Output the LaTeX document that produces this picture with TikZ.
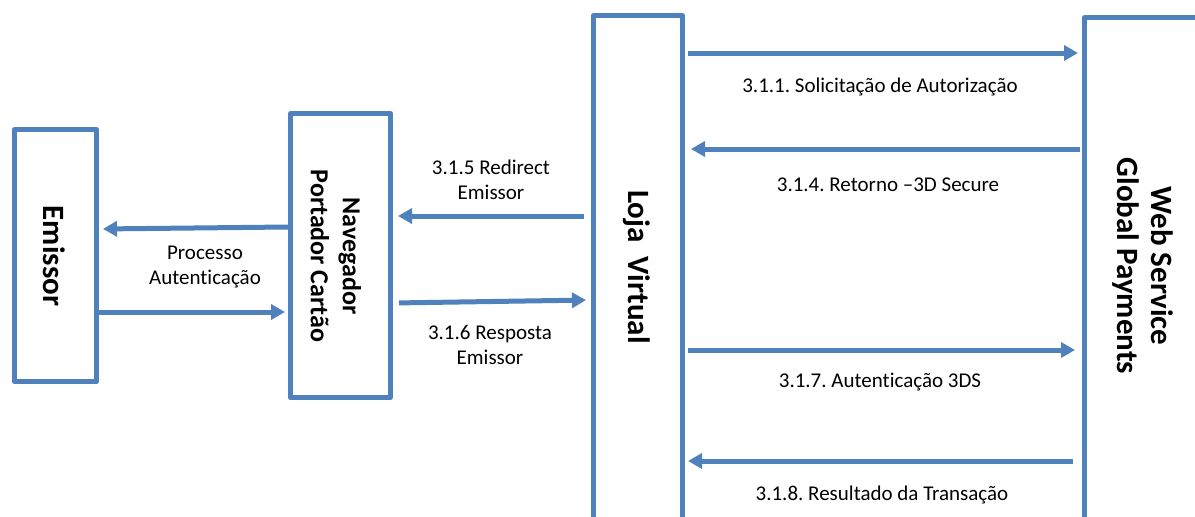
\documentclass[tikz,border=0pt]{standalone}
\usepackage{fontspec}
\setmainfont{Carlito}[Ligatures=NoCommon]
\usetikzlibrary{arrows.meta}
\definecolor{bl}{HTML}{4F81BD}
\frenchspacing
\begin{document}
\begin{tikzpicture}[x=1pt,y=-1pt,
 box/.style={draw=bl,line width=5pt,line join=round,rectangle,inner sep=0pt},
 arr/.style={draw=bl,line width=5pt,-{Triangle[length=14pt,width=15pt]}},
 lbl/.style={font=\fontsize{21}{25}\selectfont,align=center,inner sep=0pt},
 big/.style={font=\bfseries\fontsize{31}{34}\selectfont,rotate=-90,align=center,inner sep=0pt}]
\clip (0,0) rectangle (1195,517);
\fill[white] (0,0) rectangle (1195,517);
% boxes
\node[box,minimum width=82pt,minimum height=252pt] (em) at (55.5,255.5) {};
\node[box,minimum width=100pt,minimum height=284pt] (nav) at (340.5,255.5) {};
\node[box,minimum width=89pt,minimum height=560pt] (loja) at (638,295.5) {};
\node[box,minimum width=121pt,minimum height=560pt] (ws) at (1145,297.5) {};
% box texts
\node[big] (emt) at (54,256) {Emissor};
\node[big,font=\bfseries\fontsize{26}{32}\selectfont] (navt) at (336,256) {Navegador\\Portador Cartão};
\node[big] (lojat) at (637,267) {Loja\ \ Virtual};
\node[big] (wst) at (1143,266) {Web Service\\Global Payments};
% arrows
\draw[arr,shorten <=3pt,shorten >=4pt] (loja.east |- 0,53) -- (ws.west |- 0,53);
\draw[arr,shorten <=2pt,shorten >=6pt] (ws.west |- 0,149) -- (loja.east |- 0,149);
\draw[arr,shorten <=7pt,shorten >=5pt] (loja.west |- 0,216) -- (nav.east |- 0,216);
\draw[arr,shorten <=6pt,shorten >=5pt] (nav.east |- 0,303) -- (loja.west |- 0,300);
\draw[arr,shorten >=4pt] (nav.west |- 0,227) -- (em.east |- 0,229);
\draw[arr,shorten >=3pt] (em.east |- 0,312) -- (nav.west |- 0,312);
\draw[arr,shorten <=3pt,shorten >=7pt] (loja.east |- 0,350) -- (ws.west |- 0,350);
\draw[arr,shorten <=9pt,shorten >=3pt] (ws.west |- 0,461) -- (loja.east |- 0,461);
% labels
\node[lbl] (l311) at (880,87) {3.1.1. Solicitação de Autorização};
\node[lbl] (l314) at (888,185) {3.1.4. Retorno –3D Secure};
\node[lbl] (l315) at (491,180) {3.1.5 Redirect\\Emissor};
\node[lbl] (lproc) at (205,267) {Processo\\Autenticação};
\node[lbl] (l316) at (490,345) {3.1.6 Resposta\\Emissor};
\node[lbl] (l317) at (880,382) {3.1.7. Autenticação 3DS};
\node[lbl] (l318) at (882,495) {3.1.8. Resultado da Transação};
\end{tikzpicture}
\end{document}
